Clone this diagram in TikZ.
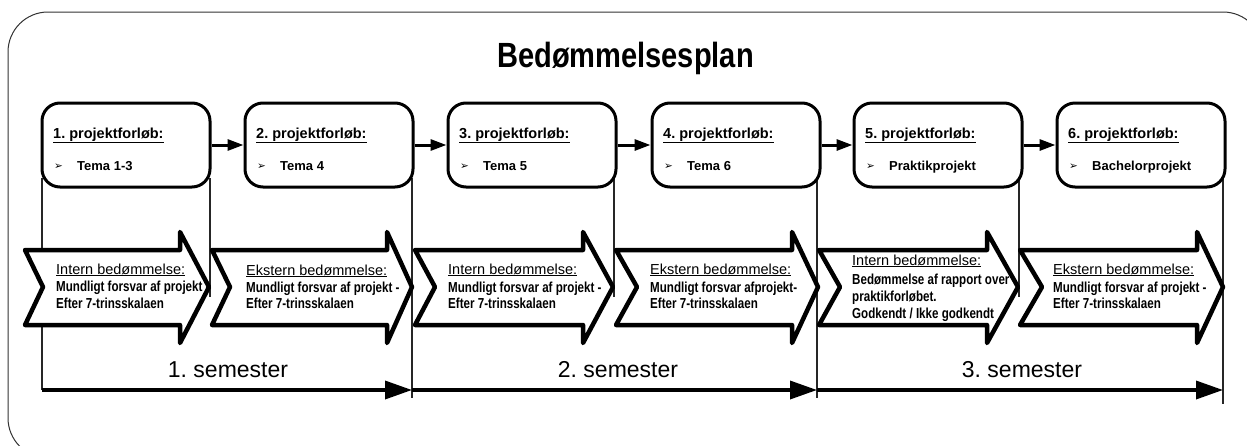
\documentclass[tikz,border=0pt]{standalone}
\usepackage{fontspec}
\setmainfont{Liberation Sans}
\newfontfamily\narf[FakeStretch=0.8]{Liberation Sans}
\newfontfamily\titf[FakeStretch=0.83]{Liberation Sans}
\newfontfamily\dingf{DejaVu Sans}
\usetikzlibrary{arrows.meta}
\frenchspacing
\begin{document}
\begin{tikzpicture}[x=1pt,y=-1pt,
  box/.style={draw, line width=3pt, rounded corners=18pt, minimum width=168pt, minimum height=84pt, inner sep=0pt},
  ptitle/.style={anchor=base west, inner sep=0pt, font=\bfseries\fontsize{14.5}{17}\selectfont},
  tema/.style={anchor=base west, inner sep=0pt, font=\bfseries\fontsize{13}{15}\selectfont},
  bul/.style={anchor=base west, inner sep=0pt, font=\dingf\fontsize{10.5}{12}\selectfont},
  hdr/.style={anchor=base west, inner sep=0pt, font=\fontsize{14.5}{17}\selectfont},
  btx/.style={anchor=base west, inner sep=0pt, font=\narf\bfseries\fontsize{14.5}{17}\selectfont},
  flow/.style={line width=3pt, -{Triangle[length=16pt,width=11pt]}},
  sem/.style={line width=3.5pt, -{Triangle[length=27pt,width=18pt]}},
  guide/.style={line width=1.3pt, black!85},
  bigarrow/.style={line width=4.5pt, line join=round},
  arrshape/.style n args={4}{insert path={(#1,250) -- (#3,250) -- (#3,232) -- (#4,287) -- (#3,343) -- (#3,325) -- (#1,325) -- (#2,287) -- cycle}},
  semlbl/.style={anchor=base, inner sep=0pt, font=\fontsize{23}{27}\selectfont}
]
\useasboundingbox (0,0) rectangle (1247,445);
\begin{scope}
\clip (0,0) rectangle (1247,445);
\draw[line width=1pt, black!80, rounded corners=40pt] (8,12) rectangle (1263,458);
\end{scope}

% title
\node[anchor=base, inner sep=0pt, font=\titf\bfseries\fontsize{35}{40}\selectfont] (title) at (625.5,67) {Bedømmelsesplan};

% guide lines
\draw[guide] (42,178) -- (42,390);
\draw[guide] (210,178) -- (210,297);
\draw[guide] (412,178) -- (412,398);
\draw[guide] (614,178) -- (614,297);
\draw[guide] (817,178) -- (817,398);
\draw[guide] (1019,178) -- (1019,297);
\draw[guide] (1223,178) -- (1223,404);

% boxes
\node[box] (b1) at (126,145) {};
\node[box] (b2) at (329,145) {};
\node[box] (b3) at (532,145) {};
\node[box] (b4) at (736,145) {};
\node[box] (b5) at (938,145) {};
\node[box] (b6) at (1141,145) {};

\node[ptitle] (p1) at (53,138) {\underline{1. projektforløb:}};
\node[ptitle] (p2) at (256,138) {\underline{2. projektforløb:}};
\node[ptitle] (p3) at (459,138) {\underline{3. projektforløb:}};
\node[ptitle] (p4) at (663,138) {\underline{4. projektforløb:}};
\node[ptitle] (p5) at (865,138) {\underline{5. projektforløb:}};
\node[ptitle] (p6) at (1068,138) {\underline{6. projektforløb:}};

\node[bul] (u1) at (54,169) {➢};
\node[bul] (u2) at (257,169) {➢};
\node[bul] (u3) at (460,169) {➢};
\node[bul] (u4) at (664,169) {➢};
\node[bul] (u5) at (866,169) {➢};
\node[bul] (u6) at (1069,169) {➢};

\node[tema] (m1) at (77,170) {Tema 1-3};
\node[tema] (m2) at (280,170) {Tema 4};
\node[tema] (m3) at (483,170) {Tema 5};
\node[tema] (m4) at (687,170) {Tema 6};
\node[tema] (m5) at (889,170) {Praktikprojekt};
\node[tema] (m6) at (1092,170) {Bachelorprojekt};

\draw[flow] (b1.east) -- (b2.west);
\draw[flow] (b2.east) -- (b3.west);
\draw[flow] (b3.east) -- (b4.west);
\draw[flow] (b4.east) -- (b5.west);
\draw[flow] (b5.east) -- (b6.west);

% big arrows
% 1
\fill[white, arrshape={25}{43}{180}{209}];
\begin{scope}
\clip[arrshape={25}{43}{180}{209}];
\node[hdr] (a1h) at (56,274) {\underline{Intern bedømmelse:}};
\node[btx] (a1a) at (56,291) {Mundligt forsvar af projekt -};
\node[btx] (a1b) at (56,308) {Efter 7-trinsskalaen};
\end{scope}
\draw[bigarrow, arrshape={25}{43}{180}{209}];
% 2
\fill[white, arrshape={212}{230}{387}{412}];
\begin{scope}
\clip[arrshape={212}{230}{387}{412}];
\node[hdr] (a2h) at (246,275) {\underline{Ekstern bedømmelse:}};
\node[btx] (a2a) at (246,292) {Mundligt forsvar af projekt -};
\node[btx] (a2b) at (246,308) {Efter 7-trinsskalaen};
\end{scope}
\draw[bigarrow, arrshape={212}{230}{387}{412}];
% 3
\fill[white, arrshape={415}{435}{583}{613}];
\begin{scope}
\clip[arrshape={415}{435}{583}{613}];
\node[hdr] (a3h) at (448,274) {\underline{Intern bedømmelse:}};
\node[btx] (a3a) at (448,292) {Mundligt forsvar af projekt -};
\node[btx] (a3b) at (448,308) {Efter 7-trinsskalaen};
\end{scope}
\draw[bigarrow, arrshape={415}{435}{583}{613}];
% 4
\fill[white, arrshape={616}{637}{792}{818}];
\begin{scope}
\clip[arrshape={616}{637}{792}{818}];
\node[hdr] (a4h) at (650,274) {\underline{Ekstern bedømmelse:}};
\node[btx] (a4a) at (650,292) {Mundligt forsvar afprojekt-};
\node[btx] (a4b) at (650,308) {Efter 7-trinsskalaen};
\end{scope}
\draw[bigarrow, arrshape={616}{637}{792}{818}];
% 5
\fill[white, arrshape={819}{840}{987}{1018}];
\begin{scope}
\clip[arrshape={819}{840}{987}{1018}];
\node[hdr] (a5h) at (852,265) {\underline{Intern bedømmelse:}};
\node[btx] (a5a) at (852,284) {Bedømmelse af rapport over};
\node[btx] (a5b) at (852,301) {praktikforløbet.};
\node[btx] (a5c) at (852,318) {Godkendt / Ikke godkendt};
\end{scope}
\draw[bigarrow, arrshape={819}{840}{987}{1018}];
% 6
\fill[white, arrshape={1020}{1042}{1197}{1223}];
\begin{scope}
\clip[arrshape={1020}{1042}{1197}{1223}];
\node[hdr] (a6h) at (1053,274) {\underline{Ekstern bedømmelse:}};
\node[btx] (a6a) at (1053,292) {Mundligt forsvar af projekt -};
\node[btx] (a6b) at (1053,308) {Efter 7-trinsskalaen};
\end{scope}
\draw[bigarrow, arrshape={1020}{1042}{1197}{1223}];

% semesters
\coordinate (s0) at (42,390);
\coordinate (s1) at (412,390);
\coordinate (s2) at (817,390);
\coordinate (s3) at (1223,390);
\draw[sem] (s0) -- (s1);
\draw[sem] (s1) -- (s2);
\draw[sem] (s2) -- (s3);
\node[semlbl] (l1) at (228,377) {1. semester};
\node[semlbl] (l2) at (618,377) {2. semester};
\node[semlbl] (l3) at (1022,377) {3. semester};
\end{tikzpicture}
\end{document}
